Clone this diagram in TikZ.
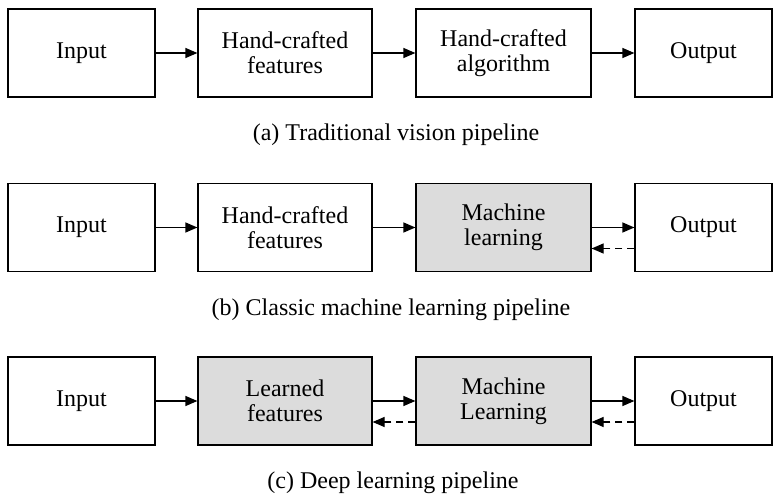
\documentclass[tikz,border=0pt]{standalone}
\usepackage{fontspec}
\setmainfont{Liberation Serif}
\usetikzlibrary{arrows.meta}
\definecolor{boxgray}{RGB}{220,220,220}

\begin{document}
\begin{tikzpicture}[x=1pt,y=-1pt,
  stage/.style={draw, line width=1.2pt, minimum height=88pt, align=center,
    inner sep=0pt, font=\fontsize{24}{25}\selectfont},
  learned/.style={stage, fill=boxgray},
  caption/.style={font=\fontsize{24}{25}\selectfont},
  flow/.style={line width=1.2pt, -{Triangle[length=12pt,width=10pt]}},
  back/.style={flow, dashed, dash pattern=on 7pt off 5pt}]
\useasboundingbox (0,0) rectangle (774,494);
% (a) traditional
\node[stage, minimum width=147pt] (ina) at (81.5,53) {Input};
\node[stage, minimum width=174pt] (feata) at (285,53) {Hand-crafted\\features};
\node[stage, minimum width=175pt] (alga) at (503.5,53) {Hand-crafted\\algorithm};
\node[stage, minimum width=137pt] (outa) at (703.5,53) {Output};
\draw[flow] (ina) -- (feata);
\draw[flow] (feata) -- (alga);
\draw[flow] (alga) -- (outa);
\node[caption] (capa) at (396,135) {(a) Traditional vision pipeline};
% (b) classic machine learning
\node[stage, minimum width=147pt] (inb) at (81.5,227.5) {Input};
\node[stage, minimum width=174pt] (featb) at (285,227.5) {Hand-crafted\\features};
\node[learned, minimum width=175pt] (mlb) at (503.5,227.5) {Machine\\learning};
\node[stage, minimum width=137pt] (outb) at (703.5,227.5) {Output};
\draw[flow] (inb) -- (featb);
\draw[flow] (featb) -- (mlb);
\draw[flow] (mlb) -- (outb);
\draw[back] ([yshift=-21pt]outb.west) -- ([yshift=-21pt]mlb.east);
\node[caption] (capb) at (391,310) {(b) Classic machine learning pipeline};
% (c) deep learning
\node[stage, minimum width=147pt] (inc) at (81.5,401) {Input};
\node[learned, minimum width=174pt] (featc) at (285,401) {Learned\\features};
\node[learned, minimum width=175pt] (mlc) at (503.5,401) {Machine\\Learning};
\node[stage, minimum width=137pt] (outc) at (703.5,401) {Output};
\draw[flow] (inc) -- (featc);
\draw[flow] (featc) -- (mlc);
\draw[flow] (mlc) -- (outc);
\draw[back] ([yshift=-21pt]mlc.west) -- ([yshift=-21pt]featc.east);
\draw[back] ([yshift=-21pt]outc.west) -- ([yshift=-21pt]mlc.east);
\node[caption] (capc) at (393,483) {(c) Deep learning pipeline};
\end{tikzpicture}
\end{document}
